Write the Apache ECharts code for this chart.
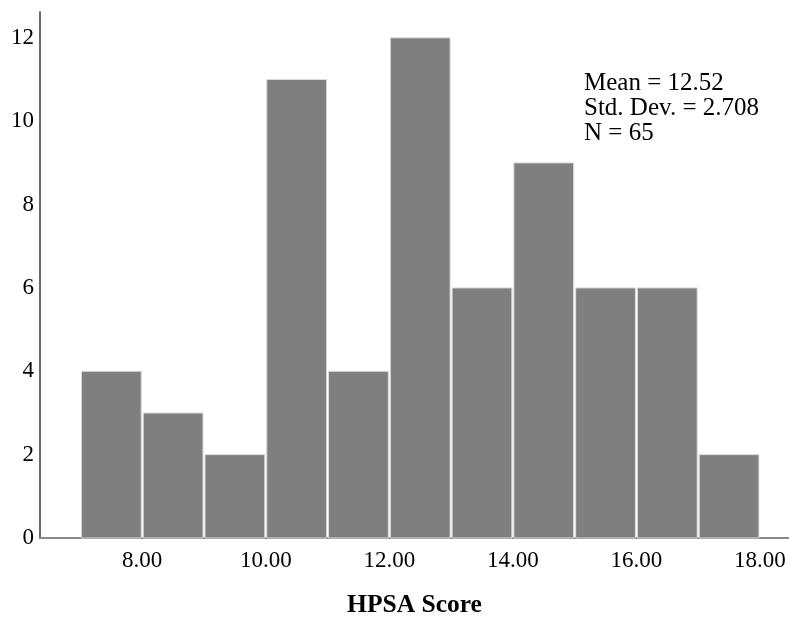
<!DOCTYPE html>
<html>
<head>
<meta charset="utf-8">
<script src="https://cdn.jsdelivr.net/npm/echarts@6/dist/echarts.min.js"></script>
<style>
html,body{margin:0;padding:0;background:#fff;}
#chart{width:789px;height:618px;}
</style>
</head>
<body>
<div id="chart"></div>
<script>
// Histogram bins (start, end) and counts
var binStarts = [7, 8, 9, 10, 11, 12, 13, 14, 15, 16, 17];
var binWidth = 1;
var counts = [4, 3, 2, 11, 4, 12, 6, 9, 6, 6, 2];
var xTickValues = [8, 10, 12, 14, 16, 18];
var yTickValues = [0, 2, 4, 6, 8, 10, 12];
var statLines = ['Mean = 12.52', 'Std. Dev. = 2.708', 'N = 65'];
var xTitle = 'HPSA Score';

var FONT = '"Liberation Serif", "Times New Roman", serif';

var data = binStarts.map(function (s, i) { return [s, s + binWidth, counts[i]]; });

var chart = echarts.init(document.getElementById('chart'), null, {renderer: 'canvas'});
chart.setOption({
  animation: false,
  backgroundColor: '#ffffff',
  grid: {left: 40, right: 0, top: 12, bottom: 80, containLabel: false, outerBoundsMode: 'none'},
  xAxis: [{
    type: 'value',
    min: 6.345,
    max: 18.47,
    splitLine: {show: false},
    axisLine: {show: true, onZero: false, lineStyle: {color: '#222', width: 1.5}},
    axisTick: {show: false},
    axisLabel: {
      customValues: xTickValues,
      formatter: function (v) { return v.toFixed(2); },
      color: '#000', fontFamily: FONT, fontSize: 23, margin: 11
    },
    name: xTitle,
    nameLocation: 'middle',
    nameGap: 54,
    nameTextStyle: {color: '#000', fontFamily: FONT, fontSize: 25.5, fontWeight: 'bold'}
  }, {
    type: 'value',
    position: 'top',
    min: 6.345,
    max: 18.47,
    splitLine: {show: false},
    axisLine: {show: true, lineStyle: {color: '#888', width: 2}},
    axisTick: {show: false},
    axisLabel: {show: false}
  }],
  yAxis: {
    type: 'value',
    min: 0,
    max: 12.62,
    splitLine: {show: false},
    axisLine: {show: true, lineStyle: {color: '#6a6a6a', width: 2}},
    axisTick: {show: false},
    axisLabel: {
      customValues: yTickValues,
      formatter: function (v) { return String(v); },
      color: '#000', fontFamily: FONT, fontSize: 23, margin: 6
    }
  },
  series: [{
    type: 'custom',
    xAxisIndex: 0,
    data: data,
    encode: {x: [0, 1], y: 2},
    renderItem: function (params, api) {
      var p0 = api.coord([api.value(0), 0]);
      var p1 = api.coord([api.value(1), api.value(2)]);
      return {
        type: 'rect',
        shape: {x: p0[0] + 1, y: p1[1], width: p1[0] - p0[0] - 2, height: p0[1] - p1[1]},
        style: {fill: '#7f7f7f', stroke: '#dcdcdc', lineWidth: 1}
      };
    }
  }],
  graphic: [{
    type: 'text',
    left: 584,
    top: 71,
    style: {
      text: statLines.join('\n'),
      fontFamily: FONT,
      fontSize: 25,
      lineHeight: 25,
      fill: '#000'
    }
  }]
});
</script>
</body>
</html>
